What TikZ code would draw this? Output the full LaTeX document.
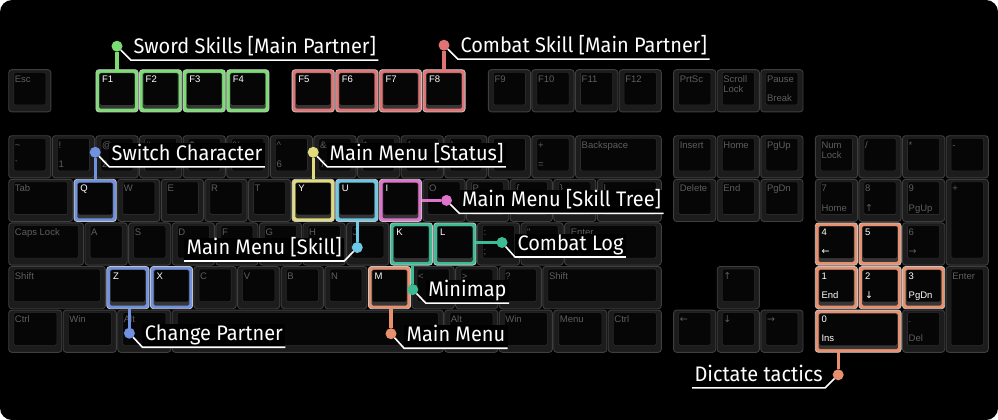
\documentclass[tikz,border=0pt]{standalone}
\usepackage{fontspec}
\setmainfont{Liberation Sans}
\newfontfamily\keyfont{Liberation Sans}
\newfontfamily\lblfont[FakeStretch=0.95]{Fira Sans}
\newfontfamily\arrfont{DejaVu Sans}
\definecolor{cgreen}{HTML}{7CDC74}
\definecolor{cred}{HTML}{E07474}
\definecolor{cblue}{HTML}{7090E0}
\definecolor{cyellow}{HTML}{E2DC7C}
\definecolor{clblue}{HTML}{6CC8E4}
\definecolor{cpink}{HTML}{E074CC}
\definecolor{cteal}{HTML}{3CBC94}
\definecolor{corange}{HTML}{E8906E}
\definecolor{kborder}{HTML}{3E3E3E}
\definecolor{kfillc}{HTML}{1C1C1C}
\definecolor{kfacec}{HTML}{060606}
\definecolor{kfaceb}{HTML}{2A2A2A}
\definecolor{klipc}{HTML}{363636}
\definecolor{hlborder}{HTML}{C4C4C4}
\definecolor{ktextc}{HTML}{5E5E5E}
\tikzset{
  keyplain/.style={draw=kborder, fill=kfillc, line width=0.9pt, rounded corners=3pt, inner sep=0pt, outer sep=0pt},
  keyhl/.style={draw=hlborder, fill=#1, line width=0.8pt, rounded corners=3pt, inner sep=0pt, outer sep=0pt},
  ktxt/.style={font=\keyfont\fontsize{9.5}{10}\selectfont, text=ktextc, inner sep=0pt, anchor=base west},
  ktxthl/.style={ktxt, text=white},
  leadline/.style={draw=#1, line width=3.2pt},
  calldot/.style={circle, fill=#1, minimum size=11pt, inner sep=0pt, outer sep=0pt},
  lbl/.style={font=\lblfont\fontsize{21}{21}\selectfont, text=white, fill=black, inner xsep=2.5pt, inner ysep=1pt, text depth=5.5pt, text height=16pt, outer sep=0pt},
  uline/.style={draw=white, line width=1.6pt},
}
% plain key: name, x (u), top (px), w (u), h (u), top label, bottom label
\newcommand\kb[7]{%
  \pgfmathsetmacro\kx{8+(#2)*43.6+0.7}%
  \pgfmathsetmacro\kw{(#4)*43.6-1.4}%
  \pgfmathsetmacro\khh{(#5)*43.6-1.4}%
  \node[keyplain, minimum width=\kw pt, minimum height=\khh pt, anchor=north west] (#1) at (\kx,#3+0.7) {};
  \filldraw[fill=kfacec, draw=kfaceb, line width=0.6pt, rounded corners=1.5pt] ([shift={(5,2.5)}]#1.north west) rectangle ([shift={(-5,-7)}]#1.south east);
  \node[ktxt] (#1-t) at ([shift={(6,12.5)}]#1.north west) {#6};
  \node[ktxt] (#1-b) at ([shift={(6,-10.5)}]#1.south west) {#7};
}
% highlighted key: colour, name, x, top, w, h, top label, bottom label
\newcommand\kc[8]{%
  \pgfmathsetmacro\kx{8+(#3)*43.6+0.7}%
  \pgfmathsetmacro\kw{(#5)*43.6-1.4}%
  \pgfmathsetmacro\khh{(#6)*43.6-1.4}%
  \node[keyhl=#1, minimum width=\kw pt, minimum height=\khh pt, anchor=north west] (#2) at (\kx,#4+0.7) {};
  \fill[klipc, rounded corners=1.5pt] ([shift={(3.2,3.2)}]#2.north west) rectangle ([shift={(-3.2,-3.2)}]#2.south east);
  \fill[kfacec, rounded corners=1.5pt] ([shift={(4,3.6)}]#2.north west) rectangle ([shift={(-4,-7)}]#2.south east);
  \node[ktxthl] (#2-t) at ([shift={(6,12.5)}]#2.north west) {#7};
  \node[ktxthl] (#2-b) at ([shift={(6,-10.5)}]#2.south west) {#8};
}
\begin{document}
\begin{tikzpicture}[x=1pt,y=-1pt]
\useasboundingbox (0,0) rectangle (998,420);
\fill[white] (0,0) rectangle (998,420);
\fill[black, rounded corners=12pt] (0,0) rectangle (998,420);
% function row
\kb{kEsc}{0}{69}{1}{1}{Esc}{}
\kc{cgreen}{kF1}{2}{69}{1}{1}{F1}{}
\kc{cgreen}{kF2}{3}{69}{1}{1}{F2}{}
\kc{cgreen}{kF3}{4}{69}{1}{1}{F3}{}
\kc{cgreen}{kF4}{5}{69}{1}{1}{F4}{}
\kc{cred}{kF5}{6.5}{69}{1}{1}{F5}{}
\kc{cred}{kF6}{7.5}{69}{1}{1}{F6}{}
\kc{cred}{kF7}{8.5}{69}{1}{1}{F7}{}
\kc{cred}{kF8}{9.5}{69}{1}{1}{F8}{}
\kb{kF9}{11}{69}{1}{1}{F9}{}
\kb{kF10}{12}{69}{1}{1}{F10}{}
\kb{kF11}{13}{69}{1}{1}{F11}{}
\kb{kF12}{14}{69}{1}{1}{F12}{}
\kb{kPrt}{15.25}{69}{1}{1}{PrtSc}{}
\kb{kScr}{16.25}{69}{1}{1}{Scroll}{}
\node[ktxt] (kScr-m) at ([shift={(6,22.5)}]kScr.north west) {Lock};
\kb{kPau}{17.25}{69}{1}{1}{Pause}{Break}
% row 0
\kb{kGr}{0}{135}{1}{1}{\textasciitilde}{\char96}
\kb{kd1}{1}{135}{1}{1}{!}{1}
\kb{kd2}{2}{135}{1}{1}{@}{2}
\kb{kd3}{3}{135}{1}{1}{\#}{3}
\kb{kd4}{4}{135}{1}{1}{\$}{4}
\kb{kd5}{5}{135}{1}{1}{\%}{5}
\kb{kd6}{6}{135}{1}{1}{\textasciicircum}{6}
\kb{kd7}{7}{135}{1}{1}{\&}{7}
\kb{kd8}{8}{135}{1}{1}{*}{8}
\kb{kd9}{9}{135}{1}{1}{(}{9}
\kb{kd0}{10}{135}{1}{1}{)}{0}
\kb{kMin}{11}{135}{1}{1}{\_}{-}
\kb{kEq}{12}{135}{1}{1}{+}{=}
\kb{kBsp}{13}{135}{2}{1}{Backspace}{}
% row 1
\kb{kTab}{0}{178.6}{1.5}{1}{Tab}{}
\kc{cblue}{kQ}{1.5}{178.6}{1}{1}{Q}{}
\kb{kW}{2.5}{178.6}{1}{1}{W}{}
\kb{kE}{3.5}{178.6}{1}{1}{E}{}
\kb{kR}{4.5}{178.6}{1}{1}{R}{}
\kb{kT}{5.5}{178.6}{1}{1}{T}{}
\kc{cyellow}{kY}{6.5}{178.6}{1}{1}{Y}{}
\kc{clblue}{kU}{7.5}{178.6}{1}{1}{U}{}
\kc{cpink}{kI}{8.5}{178.6}{1}{1}{I}{}
\kb{kO}{9.5}{178.6}{1}{1}{O}{}
\kb{kP}{10.5}{178.6}{1}{1}{P}{}
\kb{kLb}{11.5}{178.6}{1}{1}{\{}{[}
\kb{kRb}{12.5}{178.6}{1}{1}{\}}{]}
\kb{kBs}{13.5}{178.6}{1.5}{1}{|}{\textbackslash}
% row 2
\kb{kCap}{0}{222.2}{1.75}{1}{Caps Lock}{}
\kb{kA}{1.75}{222.2}{1}{1}{A}{}
\kb{kS}{2.75}{222.2}{1}{1}{S}{}
\kb{kD}{3.75}{222.2}{1}{1}{D}{}
\kb{kF}{4.75}{222.2}{1}{1}{F}{}
\kb{kG}{5.75}{222.2}{1}{1}{G}{}
\kb{kH}{6.75}{222.2}{1}{1}{H}{}
\kb{kJ}{7.75}{222.2}{1}{1}{J}{}
\kc{cteal}{kK}{8.75}{222.2}{1}{1}{K}{}
\kc{cteal}{kL}{9.75}{222.2}{1}{1}{L}{}
\kb{kSc}{10.75}{222.2}{1}{1}{:}{;}
\kb{kQu}{11.75}{222.2}{1}{1}{"}{'}
\kb{kEnt}{12.75}{222.2}{2.25}{1}{Enter}{}
% row 3
\kb{kLSh}{0}{265.8}{2.25}{1}{Shift}{}
\kc{cblue}{kZ}{2.25}{265.8}{1}{1}{Z}{}
\kc{cblue}{kX}{3.25}{265.8}{1}{1}{X}{}
\kb{kC}{4.25}{265.8}{1}{1}{C}{}
\kb{kV}{5.25}{265.8}{1}{1}{V}{}
\kb{kB}{6.25}{265.8}{1}{1}{B}{}
\kb{kN}{7.25}{265.8}{1}{1}{N}{}
\kc{corange}{kM}{8.25}{265.8}{1}{1}{M}{}
\kb{kCo}{9.25}{265.8}{1}{1}{<}{,}
\kb{kPe}{10.25}{265.8}{1}{1}{>}{.}
\kb{kSl}{11.25}{265.8}{1}{1}{?}{/}
\kb{kRSh}{12.25}{265.8}{2.75}{1}{Shift}{}
% row 4
\kb{kLCt}{0}{309.4}{1.25}{1}{Ctrl}{}
\kb{kLWi}{1.25}{309.4}{1.25}{1}{Win}{}
\kb{kLAl}{2.5}{309.4}{1.25}{1}{Alt}{}
\kb{kSpc}{3.75}{309.4}{6.25}{1}{}{}
\kb{kRAl}{10}{309.4}{1.25}{1}{Alt}{}
\kb{kRWi}{11.25}{309.4}{1.25}{1}{Win}{}
\kb{kMen}{12.5}{309.4}{1.25}{1}{Menu}{}
\kb{kRCt}{13.75}{309.4}{1.25}{1}{Ctrl}{}
% navigation
\kb{kIns}{15.25}{135}{1}{1}{Insert}{}
\kb{kHom}{16.25}{135}{1}{1}{Home}{}
\kb{kPgU}{17.25}{135}{1}{1}{PgUp}{}
\kb{kDel}{15.25}{178.6}{1}{1}{Delete}{}
\kb{kEnd}{16.25}{178.6}{1}{1}{End}{}
\kb{kPgD}{17.25}{178.6}{1}{1}{PgDn}{}
\kb{kUp}{16.25}{265.8}{1}{1}{\arrfont ↑}{}
\kb{kLe}{15.25}{309.4}{1}{1}{\arrfont ←}{}
\kb{kDn}{16.25}{309.4}{1}{1}{\arrfont ↓}{}
\kb{kRi}{17.25}{309.4}{1}{1}{\arrfont →}{}
% numpad
\kb{kNum}{18.5}{135}{1}{1}{Num}{}
\node[ktxt] (kNum-m) at ([shift={(6,22.5)}]kNum.north west) {Lock};
\kb{kNDi}{19.5}{135}{1}{1}{/}{}
\kb{kNMu}{20.5}{135}{1}{1}{*}{}
\kb{kNMi}{21.5}{135}{1}{1}{-}{}
\kb{kn7}{18.5}{178.6}{1}{1}{7}{Home}
\kb{kn8}{19.5}{178.6}{1}{1}{8}{\arrfont ↑}
\kb{kn9}{20.5}{178.6}{1}{1}{9}{PgUp}
\kb{kNPl}{21.5}{178.6}{1}{2}{+}{}
\kc{corange}{kn4}{18.5}{222.2}{1}{1}{4}{\arrfont ←}
\kc{corange}{kn5}{19.5}{222.2}{1}{1}{5}{}
\kb{kn6}{20.5}{222.2}{1}{1}{6}{\arrfont →}
\kc{corange}{kn1}{18.5}{265.8}{1}{1}{1}{End}
\kc{corange}{kn2}{19.5}{265.8}{1}{1}{2}{\arrfont ↓}
\kc{corange}{kn3}{20.5}{265.8}{1}{1}{3}{PgDn}
\kb{kNEn}{21.5}{265.8}{1}{2}{Enter}{}
\kc{corange}{kn0}{18.5}{309.4}{2}{1}{0}{Ins}
\kb{kNDe}{20.5}{309.4}{1}{1}{.}{Del}
% callouts
\node[calldot=cgreen] (dSw) at ([shift={(0,-23.5)}]kF1.north) {};
\node[lbl, anchor=south west] (tSw) at ([shift={(14,14)}]dSw.center) {Sword Skills [Main Partner]};
\draw[leadline=cgreen] (kF1.north) -- (dSw);
\draw[uline] (dSw) -- (tSw.south west) -- (tSw.south east);

\node[calldot=cred] (dCS) at ([shift={(0,-24.5)}]kF8.north) {};
\node[lbl, anchor=south west] (tCS) at ([shift={(14,14)}]dCS.center) {Combat Skill [Main Partner]};
\draw[leadline=cred] (kF8.north) -- (dCS);
\draw[uline] (dCS) -- (tCS.south west) -- (tCS.south east);

\node[calldot=cblue] (dSC) at ([shift={(0,-27)}]kQ.north) {};
\node[lbl, anchor=south west] (tSC) at ([shift={(14,14.5)}]dSC.center) {Switch Character};
\draw[leadline=cblue] (kQ.north) -- (dSC);
\draw[uline] (dSC) -- (tSC.south west) -- (tSC.south east);

\node[calldot=cyellow] (dSt) at ([shift={(0,-27)}]kY.north) {};
\node[lbl, anchor=south west] (tSt) at ([shift={(14,14.5)}]dSt.center) {Main Menu [Status]};
\draw[leadline=cyellow] (kY.north) -- (dSt);
\draw[uline] (dSt) -- (tSt.south west) -- (tSt.south east);

\node[calldot=cpink] (dTr) at ([shift={(25,0)}]kI.east) {};
\node[lbl, anchor=south west] (tTr) at ([shift={(13,13)}]dTr.center) {Main Menu [Skill Tree]};
\draw[leadline=cpink] (kI.east) -- (dTr);
\draw[uline] (dTr) -- (tTr.south west) -- (tTr.south east);

\node[calldot=cteal] (dCL) at ([shift={(26,-1.5)}]kL.east) {};
\node[lbl, anchor=south west] (tCL) at ([shift={(13,14.5)}]dCL.center) {Combat Log};
\draw[leadline=cteal] (kL.east |- dCL) -- (dCL);
\draw[uline] (dCL) -- (tCL.south west) -- (tCL.south east);

\node[calldot=clblue] (dSk) at ([shift={(0.5,26)}]kU.south) {};
\node[lbl, anchor=south east] (tSk) at ([shift={(-13,13.5)}]dSk.center) {Main Menu [Skill]};
\draw[leadline=clblue] (dSk |- kU.south) -- (dSk);
\draw[uline] (dSk) -- (tSk.south east) -- (tSk.south west);

\node[calldot=cblue] (dCP) at ([shift={(1.5,24.5)}]kZ.south) {};
\node[lbl, anchor=south west] (tCP) at ([shift={(13,14)}]dCP.center) {Change Partner};
\draw[leadline=cblue] (dCP |- kZ.south) -- (dCP);
\draw[uline] (dCP) -- (tCP.south west) -- (tCP.south east);

\node[calldot=cteal] (dMi) at ([shift={(1.5,24.5)}]kK.south) {};
\node[lbl, anchor=south west] (tMi) at ([shift={(13,13.5)}]dMi.center) {Minimap};
\draw[leadline=cteal] (dMi |- kK.south) -- (dMi);
\draw[uline] (dMi) -- (tMi.south west) -- (tMi.south east);

\node[calldot=corange] (dMM) at ([shift={(1.5,25)}]kM.south) {};
\node[lbl, anchor=south west] (tMM) at ([shift={(13,14.5)}]dMM.center) {Main Menu};
\draw[leadline=corange] (dMM |- kM.south) -- (dMM);
\draw[uline] (dMM) -- (tMM.south west) -- (tMM.south east);

\node[calldot=corange] (dDi) at ([shift={(-20,22.5)}]kn0.south) {};
\node[lbl, anchor=south east] (tDi) at ([shift={(-13,13)}]dDi.center) {Dictate tactics};
\draw[leadline=corange] (dDi |- kn0.south) -- (dDi);
\draw[uline] (dDi) -- (tDi.south east) -- (tDi.south west);
\end{tikzpicture}
\end{document}
